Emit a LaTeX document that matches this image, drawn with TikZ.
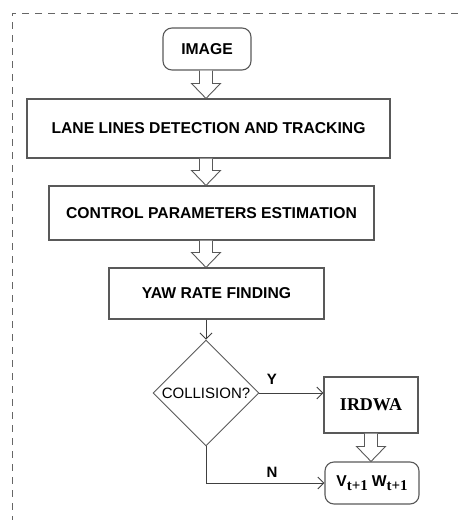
\documentclass[tikz,border=0pt]{standalone}
\usepackage{fontspec}
\setmainfont{Liberation Sans}
\newfontfamily\serifbold{Liberation Serif}
\usetikzlibrary{shapes.geometric,arrows.meta,calc}
\tikzset{
  procbox/.style={draw=black!65,line width=1.1pt,inner sep=0pt,font=\fontsize{15.7}{18}\selectfont\bfseries},
  termbox/.style={procbox,rounded corners=9pt},
  decision/.style={diamond,draw=black!65,line width=0.9pt,inner sep=0pt,minimum width=106pt,minimum height=106pt,font=\fontsize{15}{18}\selectfont},
  flow/.style={draw=black!75,line width=0.9pt,-{Straight Barb[length=6pt,width=12pt]}},
  branchtag/.style={font=\fontsize{15}{18}\selectfont\bfseries}
}
%% hollow block arrow: x taken from #1, from #2 down to #3
\newcommand{\hollowarrow}[3]{%
  \draw[draw=black!65,line width=0.9pt,fill=white] let \p1=(#1 |- #2.south), \p2=(#1 |- #3.north) in
    (\x1-6.5pt,\y1) -- (\x1-6.5pt,\y2+15pt) -- (\x1-14.5pt,\y2+15pt) -- (\x1,\y2)
    -- (\x1+14.5pt,\y2+15pt) -- (\x1+6.5pt,\y2+15pt) -- (\x1+6.5pt,\y1);}
\newcommand{\velsub}{\raisebox{-4pt}{\serifbold\bfseries\fontsize{15}{15}\selectfont t+1}}
\begin{document}
\begin{tikzpicture}[x=1pt,y=-1pt]
                \useasboundingbox (0,0) rectangle (458,520);
                \draw[dash pattern=on 7pt off 6pt,black!60,line width=0.8pt] (458,13) -- (12,13) -- (12,520);
                %% steps
                \node[termbox,minimum width=88pt,minimum height=42pt] (image) at (207,49) {IMAGE};
                \node[procbox,minimum width=363pt,minimum height=59pt] (lane) at (208.5,128.5) {LANE LINES DETECTION AND TRACKING};
                \node[procbox,minimum width=325pt,minimum height=54pt] (control) at (211.5,213) {CONTROL PARAMETERS ESTIMATION};
                \node[procbox,minimum width=215pt,minimum height=51pt] (yaw) at (216.5,293.5) {YAW RATE FINDING};
                \node[decision] (coll) at (206,393) {COLLISION?};
                \node[procbox,minimum width=94pt,minimum height=56pt,font=\serifbold\fontsize{18}{20}\selectfont\bfseries] (irdwa) at (371,405) {IRDWA};
                \node[termbox,minimum width=94pt,minimum height=42pt] (vel) at (372,483) {V\velsub\hspace{4pt}W\velsub};
                %% block arrows
                \hollowarrow{coll}{image}{lane}
                \hollowarrow{coll}{lane}{control}
                \hollowarrow{coll}{control}{yaw}
                \hollowarrow{irdwa}{irdwa}{vel}
                %% decision
                \draw[flow] (coll |- yaw.south) -- (coll.north);
                \draw[flow] (coll.east) -- (coll.east -| irdwa.west);
                \draw[flow] (coll.south) |- (vel.west);
                \node[branchtag] (yes) at (272,379) {Y};
                \node[branchtag] (no) at (272,472) {N};
            \end{tikzpicture}
\end{document}
